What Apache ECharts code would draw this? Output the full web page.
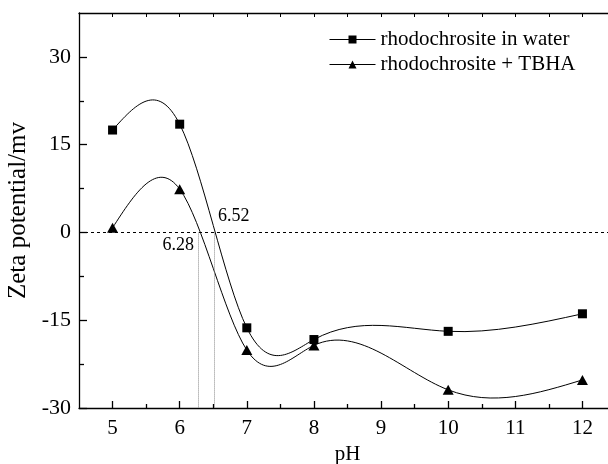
<!DOCTYPE html>
<html>
<head>
<meta charset="utf-8">
<script src="https://cdn.jsdelivr.net/npm/echarts@6/dist/echarts.min.js"></script>
<style>
html,body{margin:0;padding:0;background:#fff;}
#chart{width:608px;height:464px;}
</style>
</head>
<body>
<div id="chart"></div>
<script>
// ---- data ----
const pHValues = [5, 6, 7, 8, 10, 12];
const waterZeta = [17.5, 18.5, -16.3, -18.3, -16.9, -13.9];
const tbhaZeta = [0.8, 7.4, -20.1, -19.3, -26.9, -25.2];
const seriesNames = ['rhodochrosite in water', 'rhodochrosite + TBHA'];
const iepValues = [6.28, 6.52];
const iepLabels = ['6.28', '6.52'];
const xTickLabels = [5, 6, 7, 8, 9, 10, 11, 12];
const xMinorTicks = [5.5, 6.5, 7.5, 8.5, 9.5, 10.5, 11.5];
const yTickLabels = [-30, -15, 0, 15, 30];
const yMinorTicks = [-22.5, -7.5, 7.5, 22.5];

const FONT = "'Liberation Serif', 'Times New Roman', serif";

// natural cubic spline slopes at the nodes (used only to draw the smooth curve)
function splineSlopes(xs, ys) {
  const n = xs.length;
  const h = [], M = new Array(n).fill(0);
  for (let i = 0; i < n - 1; i++) h.push(xs[i + 1] - xs[i]);
  const a = [], b = [], c = [], d = [];
  for (let i = 1; i < n - 1; i++) {
    a.push(h[i - 1]); b.push(2 * (h[i - 1] + h[i])); c.push(h[i]);
    d.push(6 * ((ys[i + 1] - ys[i]) / h[i] - (ys[i] - ys[i - 1]) / h[i - 1]));
  }
  const m = b.length;
  for (let i = 1; i < m; i++) {
    const w = a[i] / b[i - 1];
    b[i] -= w * c[i - 1]; d[i] -= w * d[i - 1];
  }
  const sol = new Array(m);
  sol[m - 1] = d[m - 1] / b[m - 1];
  for (let i = m - 2; i >= 0; i--) sol[i] = (d[i] - c[i] * sol[i + 1]) / b[i];
  for (let i = 0; i < m; i++) M[i + 1] = sol[i];
  const s = [];
  for (let i = 0; i < n; i++) {
    if (i < n - 1) {
      s.push((ys[i + 1] - ys[i]) / h[i] - h[i] * (2 * M[i] + M[i + 1]) / 6);
    } else {
      s.push((ys[i] - ys[i - 1]) / h[i - 1] + h[i - 1] * (M[i - 1] + 2 * M[i]) / 6);
    }
  }
  return s;
}

function curveSeries(name, ys) {
  const sl = splineSlopes(pHValues, ys);
  const segs = [];
  for (let i = 0; i < pHValues.length - 1; i++) {
    segs.push([pHValues[i], ys[i], pHValues[i + 1], ys[i + 1], sl[i], sl[i + 1]]);
  }
  return {
    type: 'custom', name: name + ' curve', coordinateSystem: 'cartesian2d',
    xAxisIndex: 0, yAxisIndex: 0, clip: true, silent: true, z: 2,
    data: segs, encode: { x: [0, 2], y: [1, 3] },
    renderItem(params, api) {
      const x0 = api.value(0), y0 = api.value(1), x1 = api.value(2), y1 = api.value(3);
      const d0 = api.value(4), d1 = api.value(5);
      const hh = x1 - x0;
      const p0 = api.coord([x0, y0]);
      const c1 = api.coord([x0 + hh / 3, y0 + d0 * hh / 3]);
      const c2 = api.coord([x1 - hh / 3, y1 - d1 * hh / 3]);
      const p1 = api.coord([x1, y1]);
      return {
        type: 'bezierCurve',
        shape: { x1: p0[0], y1: p0[1], cpx1: c1[0], cpy1: c1[1], cpx2: c2[0], cpy2: c2[1], x2: p1[0], y2: p1[1] },
        style: { stroke: '#000', lineWidth: 1, fill: null }
      };
    }
  };
}

const chart = echarts.init(document.getElementById('chart'), null, { renderer: 'canvas' });

const axisLineStyle = { color: '#000', width: 1.3 };

const option = {
  animation: false,
  backgroundColor: '#fff',
  textStyle: { fontFamily: FONT, color: '#000' },
  grid: { left: 79, right: -8, top: 13, bottom: 56, containLabel: false, outerBoundsMode: 'none' },
  legend: {
    orient: 'vertical', left: 324, top: 24, itemWidth: 46, itemHeight: 10, itemGap: 4,
    textStyle: { fontFamily: FONT, fontSize: 21, color: '#000' },
    lineStyle: { color: '#000', width: 1, opacity: 1 },
    itemStyle: { color: '#000' },
    data: seriesNames
  },
  xAxis: [
    {
      type: 'value', min: 4.5, max: 12.5, position: 'bottom',
      name: 'pH', nameLocation: 'middle', nameGap: 30,
      nameTextStyle: { fontFamily: FONT, fontSize: 21, color: '#000' },
      axisLine: { show: true, onZero: false, lineStyle: axisLineStyle },
      axisTick: { show: true, inside: true, length: 7, customValues: xTickLabels, lineStyle: { color: '#000', width: 1.3 } },
      axisLabel: { show: true, customValues: xTickLabels, margin: 10, fontFamily: FONT, fontSize: 21, color: '#000' },
      splitLine: { show: false }
    },
    {
      type: 'value', min: 4.5, max: 12.5, position: 'bottom', gridIndex: 0,
      axisLine: { show: false, onZero: false },
      axisTick: { show: true, inside: true, length: 4, customValues: xMinorTicks, lineStyle: { color: '#000', width: 1.3 } },
      axisLabel: { show: false }, splitLine: { show: false }
    },
    {
      type: 'value', min: 4.5, max: 12.5, position: 'top', gridIndex: 0,
      axisLine: { show: true, onZero: false, lineStyle: axisLineStyle },
      axisTick: { show: true, inside: true, length: 4, customValues: xTickLabels.concat(xMinorTicks), lineStyle: { color: '#000', width: 1 } },
      axisLabel: { show: false }, splitLine: { show: false }
    }
  ],
  yAxis: [
    {
      type: 'value', min: -30, max: 37.5, position: 'left',
      name: 'Zeta potential/mv', nameLocation: 'middle', nameGap: 46,
      nameTextStyle: { fontFamily: FONT, fontSize: 25, color: '#000' },
      axisLine: { show: true, onZero: false, lineStyle: axisLineStyle },
      axisTick: { show: true, inside: true, length: 8, customValues: yTickLabels, lineStyle: { color: '#000', width: 1.3 } },
      axisLabel: { show: true, customValues: yTickLabels, margin: 8, fontFamily: FONT, fontSize: 22, color: '#000' },
      splitLine: { show: false }
    },
    {
      type: 'value', min: -30, max: 37.5, position: 'left', gridIndex: 0,
      axisLine: { show: false, onZero: false },
      axisTick: { show: true, inside: true, length: 5, customValues: yMinorTicks, lineStyle: { color: '#000', width: 1.3 } },
      axisLabel: { show: false }, splitLine: { show: false }
    }
  ],
  series: [
    curveSeries(seriesNames[0], waterZeta),
    curveSeries(seriesNames[1], tbhaZeta),
    {
      type: 'line', name: seriesNames[0], xAxisIndex: 0, yAxisIndex: 0, z: 5,
      data: pHValues.map((x, i) => [x, waterZeta[i]]),
      symbol: 'rect', symbolSize: 9, showAllSymbol: true,
      itemStyle: { color: '#000' },
      lineStyle: { opacity: 0 },
      markLine: {
        silent: true, symbol: ['none', 'none'], label: { show: false }, animation: false,
        lineStyle: { color: '#000', width: 1, type: [3, 3] },
        data: [
          { yAxis: 0 },
          [{ coord: [iepValues[0], 0], lineStyle: { color: '#888', width: 1, type: [1, 1] } }, { coord: [iepValues[0], -30] }],
          [{ coord: [iepValues[1], 0], lineStyle: { color: '#888', width: 1, type: [1, 1] } }, { coord: [iepValues[1], -30] }]
        ]
      }
    },
    {
      type: 'line', name: seriesNames[1], xAxisIndex: 0, yAxisIndex: 0, z: 5,
      data: pHValues.map((x, i) => [x, tbhaZeta[i]]),
      symbol: 'triangle', symbolSize: [11, 10], showAllSymbol: true,
      itemStyle: { color: '#000' },
      lineStyle: { opacity: 0 },
      markPoint: {
        silent: true, symbol: 'circle', symbolSize: 1, itemStyle: { color: 'rgba(0,0,0,0)' },
        data: [
          { coord: [iepValues[0], 0], label: { show: true, formatter: iepLabels[0], position: [-4, 13], align: 'right', verticalAlign: 'middle', fontFamily: FONT, fontSize: 18, color: '#000' } },
          { coord: [iepValues[1], 0], label: { show: true, formatter: iepLabels[1], position: [4, -16], align: 'left', verticalAlign: 'middle', fontFamily: FONT, fontSize: 18, color: '#000' } }
        ]
      }
    }
  ]
};
chart.setOption(option);
</script>
</body>
</html>
